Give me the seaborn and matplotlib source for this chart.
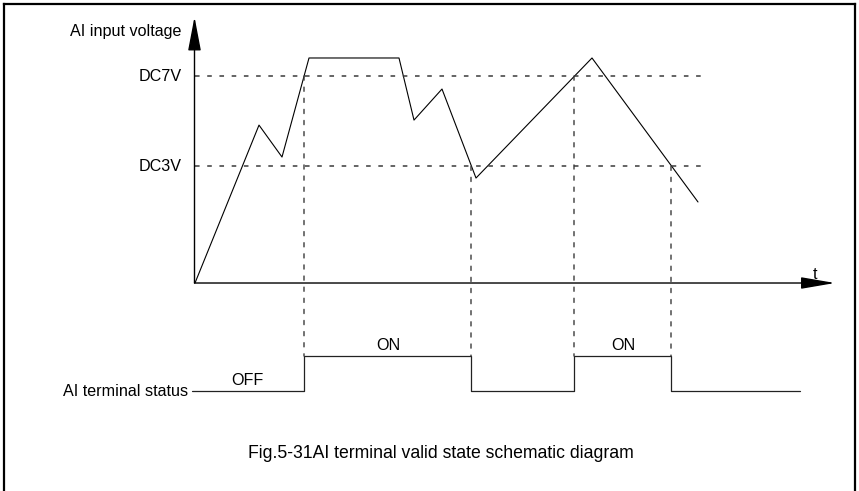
import numpy as np
import pandas as pd
import matplotlib
matplotlib.use("Agg")
import matplotlib.pyplot as plt
import seaborn as sns
from matplotlib.lines import Line2D
from matplotlib.patches import ConnectionPatch

sns.set_theme(style="white")
plt.rcParams['font.family'] = ['Liberation Sans', 'DejaVu Sans']

# voltage curve (time in arbitrary units, voltage in schematic units)
curve_t = [0, 6.4, 8.7, 11.4, 20.4, 21.9, 24.7, 28.1, 39.7, 50.3]
curve_v = [0, 5.34, 4.26, 7.61, 7.61, 5.51, 6.56, 3.55, 7.61, 2.74]

# thresholds
thr_levels = [7.0, 3.95]
thr_labels = ["DC7V", "DC3V"]

# switching instants of the AI terminal and the threshold that causes them
switch_t = [10.9, 27.6, 37.9, 47.6]
switch_v = [7.0, 3.95, 7.0, 3.95]

# terminal status (steps-post)
status_t = [-0.3, 10.9, 27.6, 37.9, 47.6, 60.5]
status_s = [0, 1, 0, 1, 0, 0]
state_labels = ["OFF", "ON", "ON"]
state_label_t = [5.2, 19.3, 42.8]
state_label_s = [0.29, 1.31, 1.31]

caption = "Fig.5-31AI terminal valid state schematic diagram"

fs = 11.6
ink = "black"
dash_col = "#3a3a3a"
dash = (0, (3.0, 5.0))

fig = plt.figure(figsize=(8.59, 4.91), dpi=100)
ax = fig.add_axes([0, 0, 1, 1])
ax2 = fig.add_axes([0, 0, 1, 1], sharex=ax)
for a in (ax, ax2):
    a.set_axis_off()
    a.patch.set_alpha(0)
ax.set_xlim(-19.5, 66.4)
ax.set_ylim(-7.034, 9.571)
ax2.set_ylim(-2.857, 11.171)

# voltage curve
df = pd.DataFrame({"t": curve_t, "v": curve_v})
sns.lineplot(data=df, x="t", y="v", ax=ax, sort=False, estimator=None,
             color=ink, lw=0.8)

# axes arrows
ax.annotate("", xy=(-0.05, 9.0), xytext=(-0.05, 0),
            arrowprops=dict(arrowstyle="-|>,head_length=21,head_width=4",
                            mutation_scale=1, color=ink, lw=1.0,
                            shrinkA=0, shrinkB=0))
ax.annotate("", xy=(64.0, 0), xytext=(-0.05, 0),
            arrowprops=dict(arrowstyle="-|>,head_length=21,head_width=3.6",
                            mutation_scale=1, color=ink, lw=1.0,
                            shrinkA=0, shrinkB=0))

# threshold lines and labels
for lv, lb in zip(thr_levels, thr_labels):
    ax.plot([0, 51], [lv, lv], color=dash_col, lw=1.1, ls=dash)
    ax.text(-1.3, lv, lb, ha="right", va="center", fontsize=fs, color=ink)
ax.text(-1.4, 8.49, "AI input voltage", ha="right", va="center", fontsize=fs, color=ink)
ax.text(62.0, 0.3, "t", ha="center", va="center", fontsize=fs, color=ink)

# vertical dashed lines from threshold crossing down to the ON level
for st, sv in zip(switch_t, switch_v):
    con = ConnectionPatch(xyA=(st, sv), coordsA=ax.transData,
                          xyB=(st, 1), coordsB=ax2.transData,
                          color=dash_col, lw=1.0, ls=dash)
    fig.add_artist(con)

# terminal status
sdf = pd.DataFrame({"t": status_t, "s": status_s})
sns.lineplot(data=sdf, x="t", y="s", ax=ax2, sort=False, estimator=None,
             drawstyle="steps-post", color="#222222", lw=0.9)
ax2.text(-0.7, 0, "AI terminal status", ha="right", va="center", fontsize=fs, color=ink)
for lb, tt, ss in zip(state_labels, state_label_t, state_label_s):
    ax2.text(tt, ss, lb, ha="center", va="center", fontsize=fs, color=ink)

fig.text(441 / 859, 1 - 453 / 491, caption, ha="center", va="center",
         fontsize=12.7, color=ink)

# frame (left, top, right)
for xs, ys in [([4 / 859, 4 / 859], [0, 1 - 4 / 491]),
               ([4 / 859, 854.5 / 859], [1 - 4 / 491, 1 - 4 / 491]),
               ([854.5 / 859, 854.5 / 859], [1 - 4 / 491, 0])]:
    fig.add_artist(Line2D(xs, ys, color=ink, lw=1.6, transform=fig.transFigure,
                          solid_capstyle="projecting"))

fig.savefig("out.png", dpi=100)
